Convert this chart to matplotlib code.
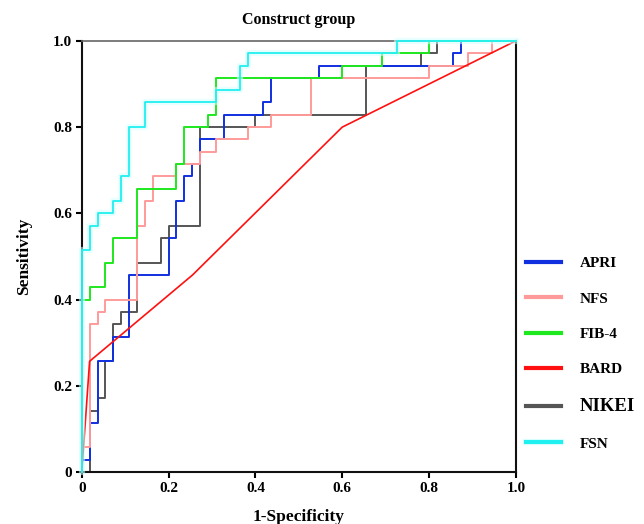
import numpy as np
import matplotlib
matplotlib.use("Agg")
import matplotlib.pyplot as plt
import matplotlib.patheffects as pe

plt.rcParams['font.family'] = ['Liberation Serif', 'DejaVu Serif']
plt.rcParams['font.weight'] = 'bold'

# ROC step corners (false positives out of 55, true positives out of 35)
N_NEG = 55
N_POS = 35

apri_fp = [0, 0, 1, 2, 4, 6, 11, 12, 13, 14, 15, 18, 23, 24, 30, 47, 48, 55]
apri_tp = [0, 1, 4, 9, 11, 16, 19, 22, 24, 25, 27, 29, 30, 32, 33, 34, 35, 35]

nfs_fp = [0, 0, 1, 2, 3, 7, 8, 9, 12, 15, 17, 21, 24, 29, 44, 49, 52, 55]
nfs_tp = [0, 2, 12, 13, 14, 20, 22, 24, 25, 26, 27, 28, 29, 32, 33, 34, 35, 35]

fib4_fp = [0, 0, 1, 3, 4, 7, 12, 13, 16, 17, 33, 38, 44, 55]
fib4_tp = [0, 14, 15, 17, 19, 23, 25, 28, 29, 32, 33, 34, 35, 35]

nikei_fp = [0, 1, 2, 3, 4, 5, 7, 10, 11, 15, 22, 36, 43, 45, 55]
nikei_tp = [0, 5, 6, 9, 12, 13, 17, 19, 20, 28, 29, 33, 34, 35, 35]

fsn_fp = [0, 0, 1, 2, 4, 5, 6, 8, 17, 20, 21, 40, 55]
fsn_tp = [0, 18, 20, 21, 22, 24, 28, 30, 31, 33, 34, 35, 35]

# BARD is drawn as a plain polyline
bard_fpr = [0.0, 0.018, 0.255, 0.600, 1.0]
bard_tpr = [0.0, 0.257, 0.457, 0.800, 1.0]

labels = ["APRI", "NFS", "FIB-4", "BARD", "NIKEI", "FSN"]
colors = ["#1030e0", "#ff9a9a", "#1ee81e", "#ff1010", "#555555", "#20f0f0"]

fig = plt.figure(figsize=(6.44, 5.24), dpi=100)
ax = fig.add_axes([0.127, 0.099, 0.674, 0.823])

lw = 1.4
steps = [(apri_fp, apri_tp, 0), (nfs_fp, nfs_tp, 1), (fib4_fp, fib4_tp, 2)]
for fp, tp, i in steps:
    ax.plot(np.array(fp) / N_NEG, np.array(tp) / N_POS, drawstyle='steps-post',
            color=colors[i], lw=lw, label=labels[i], zorder=3 + i, clip_on=False)

ax.plot(bard_fpr, bard_tpr, color=colors[3], lw=1.2, label=labels[3], zorder=7, clip_on=False)

ax.plot(np.array(nikei_fp) / N_NEG, np.array(nikei_tp) / N_POS, drawstyle='steps-post',
        color=colors[4], lw=lw, label=labels[4], zorder=2, clip_on=False)

glow = [pe.Stroke(linewidth=4.5, foreground='#d4ffff', alpha=0.55), pe.Normal()]
ax.plot(np.array(fsn_fp) / N_NEG, np.array(fsn_tp) / N_POS, drawstyle='steps-post',
        color=colors[5], lw=1.3, label=labels[5], zorder=8, clip_on=False,
        path_effects=glow)

ax.set_xlim(0, 1)
ax.set_ylim(0, 1)
ticks = [0, 0.2, 0.4, 0.6, 0.8, 1.0]
tick_labels = ["0", "0.2", "0.4", "0.6", "0.8", "1.0"]
ax.set_xticks(ticks)
ax.set_xticklabels(tick_labels)
ax.set_yticks(ticks)
ax.set_yticklabels(tick_labels)
ax.tick_params(direction='out', length=4, width=1.5, labelsize=11, pad=3)

for side in ['left', 'bottom', 'right']:
    ax.spines[side].set_linewidth(1.5)
    ax.spines[side].set_color('#111111')
ax.spines['top'].set_linewidth(1.2)
ax.spines['top'].set_color('#666666')

ax.set_xlabel("1-Specificity", fontsize=12.5, fontweight='bold', labelpad=10)
ax.set_ylabel("Sensitivity", fontsize=12.5, fontweight='bold', labelpad=15)
ax.set_title("Construct group", fontsize=11.5, fontweight='bold', pad=12)

leg = ax.legend(loc='upper left', bbox_to_anchor=(1.01, 0.514), frameon=False,
                fontsize=11, handlelength=2.3, handletextpad=1.2, labelspacing=1.42,
                borderaxespad=0)
for line in leg.get_lines():
    line.set_linewidth(3)
for t in leg.get_texts():
    if t.get_text() == "NIKEI":
        t.set_fontsize(13.5)

fig.savefig("out.png", dpi=100)
